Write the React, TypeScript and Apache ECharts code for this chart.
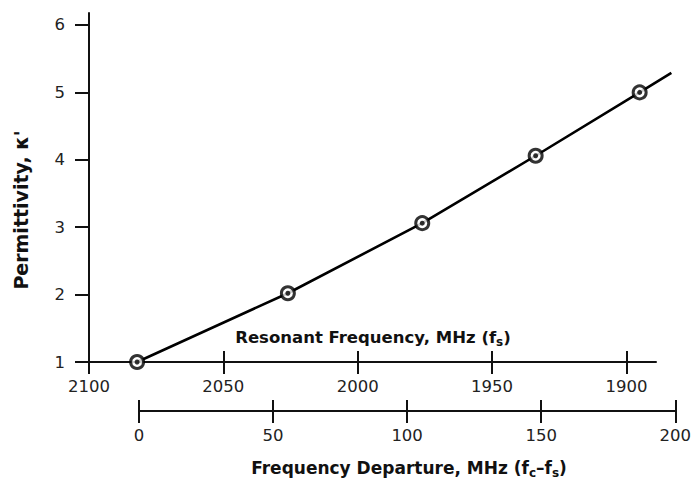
import React, { useEffect, useRef } from "react";
import * as echarts from "echarts";

// Tick values
const resonantTicks = [2100, 2050, 2000, 1950, 1900];
const departureTicks = [0, 50, 100, 150, 200];
const permittivityTicks = [1, 2, 3, 4, 5, 6];

// Measured points (resonant frequency MHz, permittivity)
const resonantFreq = [2082.1, 2026.0, 1976.0, 1933.8, 1895.1];
const permittivity = [1.0, 2.02, 3.06, 4.06, 5.0];

// Drawn curve (extends past last point)
const curveFreq = [2082.1, 2026.0, 1976.0, 1933.8, 1895.1, 1883.3];
const curvePerm = [1.0, 2.02, 3.06, 4.06, 5.0, 5.29];

const FONT = "'DejaVu Sans', Verdana, sans-serif";

export default function App() {
  const ref = useRef<HTMLDivElement>(null);
  useEffect(() => {
    if (!ref.current) return;
    const chart = echarts.init(ref.current, null, { renderer: "svg" });
    const axisColor = "#111";
    const labelStyle = { color: "#222", fontSize: 16.5, fontFamily: FONT, formatter: (v: number) => String(v) };
    const points = resonantFreq.map((f, i) => [f, permittivity[i]]);
    const curve = curveFreq.map((f, i) => [f, curvePerm[i]]);
    const titleRich = {
      sub: { fontSize: 12, fontWeight: "bold", fontFamily: FONT, fill: "#111", padding: [9, 0, 0, 0] },
    };
    chart.setOption({
      animation: false,
      backgroundColor: "#fff",
      grid: [
        { left: 89, right: 17, top: 13, bottom: 118 },
        { left: 139, right: 17, top: 400, bottom: 69 },
        { left: 89, right: 38, top: 13, bottom: 118 },
      ],
      xAxis: [
        {
          gridIndex: 0,
          type: "value",
          inverse: true,
          min: 1881.2,
          max: 2100,
          position: "bottom",
          axisLine: { show: false, onZero: false },
          axisTick: { show: true, customValues: resonantTicks, length: 12, lineStyle: { color: axisColor, width: 2 } },
          axisLabel: { show: true, customValues: resonantTicks, margin: 16, ...labelStyle },
          splitLine: { show: false },
        },
        {
          gridIndex: 0,
          type: "value",
          inverse: true,
          min: 1881.2,
          max: 2100,
          position: "bottom",
          axisLine: { show: false, onZero: false },
          axisTick: { show: true, inside: true, customValues: resonantTicks, length: 11, lineStyle: { color: axisColor, width: 2 } },
          axisLabel: { show: false },
          splitLine: { show: false },
        },
        {
          gridIndex: 1,
          type: "value",
          min: 0,
          max: 200,
          interval: 50,
          position: "bottom",
          axisLine: { show: true, onZero: false, lineStyle: { color: axisColor, width: 2 } },
          axisTick: { show: true, customValues: departureTicks, length: 12, lineStyle: { color: axisColor, width: 2 } },
          axisLabel: { show: true, customValues: departureTicks, margin: 16, ...labelStyle },
          splitLine: { show: false },
        },
        {
          gridIndex: 1,
          type: "value",
          min: 0,
          max: 200,
          interval: 50,
          position: "bottom",
          axisLine: { show: false, onZero: false },
          axisTick: { show: true, inside: true, customValues: departureTicks, length: 11, lineStyle: { color: axisColor, width: 2 } },
          axisLabel: { show: false },
          splitLine: { show: false },
        },
        {
          gridIndex: 2,
          type: "value",
          inverse: true,
          min: 1889,
          max: 2100,
          position: "bottom",
          axisLine: { show: true, onZero: false, lineStyle: { color: axisColor, width: 2 } },
          axisTick: { show: false },
          axisLabel: { show: false },
          splitLine: { show: false },
        },
      ],
      yAxis: [
        {
          gridIndex: 0,
          type: "value",
          min: 1,
          max: 6.178,
          axisLine: { show: true, onZero: false, lineStyle: { color: axisColor, width: 2 } },
          axisTick: { show: true, customValues: permittivityTicks, length: 14, lineStyle: { color: axisColor, width: 2 } },
          axisLabel: { show: true, customValues: permittivityTicks, margin: 24, ...labelStyle },
          splitLine: { show: false },
        },
        { gridIndex: 1, type: "value", show: false },
        { gridIndex: 2, type: "value", show: false },
      ],
      graphic: [
        {
          type: "text",
          x: 373,
          y: 337,
          style: {
            text: "Resonant Frequency, MHz (f{sub|s})",
            font: `bold 16.5px ${FONT}`,
            fill: "#111",
            align: "center",
            verticalAlign: "middle",
            rich: titleRich,
          },
        },
        {
          type: "text",
          x: 409,
          y: 468,
          style: {
            text: "Frequency Departure, MHz (f{sub|c}\u2013f{sub|s})",
            font: `bold 17px ${FONT}`,
            fill: "#111",
            align: "center",
            verticalAlign: "middle",
            rich: titleRich,
          },
        },
        {
          type: "text",
          x: 21,
          y: 210,
          rotation: Math.PI / 2,
          style: {
            text: "Permittivity, \u03ba'",
            font: `bold 19px ${FONT}`,
            fill: "#111",
            align: "center",
            verticalAlign: "middle",
          },
        },
      ],
      series: [
        {
          type: "line",
          xAxisIndex: 0,
          yAxisIndex: 0,
          data: curve,
          showSymbol: false,
          lineStyle: { color: "#000", width: 2.6 },
          silent: true,
          z: 2,
        },
        {
          type: "scatter",
          xAxisIndex: 0,
          yAxisIndex: 0,
          data: points,
          symbol: "circle",
          symbolSize: 13,
          itemStyle: { color: "#fff", borderColor: "#000", borderWidth: 3 },
          z: 3,
        },
        {
          type: "scatter",
          xAxisIndex: 0,
          yAxisIndex: 0,
          data: points,
          symbol: "circle",
          symbolSize: 5,
          itemStyle: { color: "#000" },
          z: 4,
        },
      ],
    });
    return () => chart.dispose();
  }, []);
  return (
    <div
      ref={ref}
      style={{ position: "fixed", left: 0, top: 0, width: 694, height: 480, background: "#fff" }}
    />
  );
}
